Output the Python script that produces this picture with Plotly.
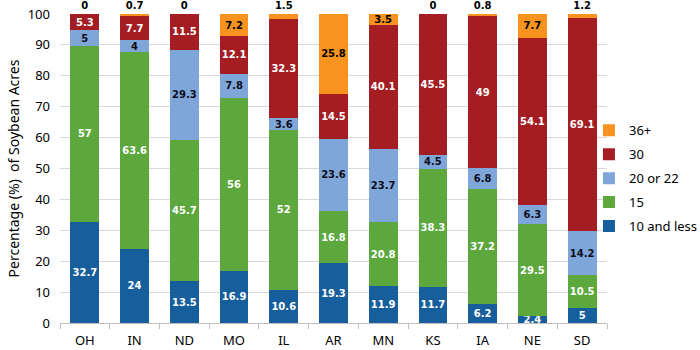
import plotly.graph_objects as go

states = ["OH", "IN", "ND", "MO", "IL", "AR", "MN", "KS", "IA", "NE", "SD"]
s_10_less = [32.7, 24, 13.5, 16.9, 10.6, 19.3, 11.9, 11.7, 6.2, 2.4, 5]
s_15 = [57, 63.6, 45.7, 56, 52, 16.8, 20.8, 38.3, 37.2, 29.5, 10.5]
s_20_22 = [5, 4, 29.3, 7.8, 3.6, 23.6, 23.7, 4.5, 6.8, 6.3, 14.2]
s_30 = [5.3, 7.7, 11.5, 12.1, 32.3, 14.5, 40.1, 45.5, 49, 54.1, 69.1]
s_36_plus = [0, 0.7, 0, 7.2, 1.5, 25.8, 3.5, 0, 0.8, 7.7, 1.2]

series = [
    ("10 and less", s_10_less, "#175E9C", "white"),
    ("15", s_15, "#5CA83D", "white"),
    ("20 or 22", s_20_22, "#7FA6D9", "#0d0d1a"),
    ("30", s_30, "#A31D22", "white"),
    ("36+", s_36_plus, "#F7931E", "black"),
]

label_font = "DejaVu Sans"
fig = go.Figure()
for i, (name, vals, color, tcolor) in enumerate(series):
    if name == "36+":
        pos = ["inside" if v >= 3 else "outside" for v in vals]
    else:
        pos = "inside"
    fig.add_trace(go.Bar(
        x=states, y=vals, name=name, marker_color=color,
        marker_line_width=0,
        text=[f"{v:g}" for v in vals], textposition=pos, textangle=0,
        insidetextanchor="middle", constraintext="none",
        textfont=dict(family=label_font, size=10, color=tcolor, weight="bold"),
        outsidetextfont=dict(family=label_font, size=10, color="black", weight="bold"),
        cliponaxis=False, legendgroup=name, legendrank=(len(series) - i) * 10,
    ))

fig.update_layout(
    barmode="stack", bargap=0.42,
    width=700, height=350,
    margin=dict(l=60, r=93, t=14, b=27, autoexpand=False),
    plot_bgcolor="white", paper_bgcolor="white",
    font=dict(family="Noto Sans", size=13, color="black"),
    legend=dict(x=0.967, xanchor="left", y=0.468, yanchor="middle",
                traceorder="grouped", tracegroupgap=4,
                bgcolor="rgba(0,0,0,0)",
                font=dict(family="Noto Sans", size=13)),
)
fig.update_yaxes(range=[0, 100], dtick=10, showgrid=True, gridcolor="#D9D9D9",
                 zeroline=False, showline=False, ticklabelstandoff=9,
                 tickfont=dict(family="Noto Sans", size=13),
                 title=dict(text="Percentage (%)\u00a0 of Soybean Acres",
                            font=dict(family="Noto Sans", size=14), standoff=4))
fig.update_xaxes(showline=True, linecolor="#BFBFBF", ticks="outside",
                 tickson="boundaries", ticklen=5, tickcolor="#BFBFBF",
                 ticklabelstandoff=5,
                 tickfont=dict(family="Noto Sans", size=13))

fig.write_html("out.html")
